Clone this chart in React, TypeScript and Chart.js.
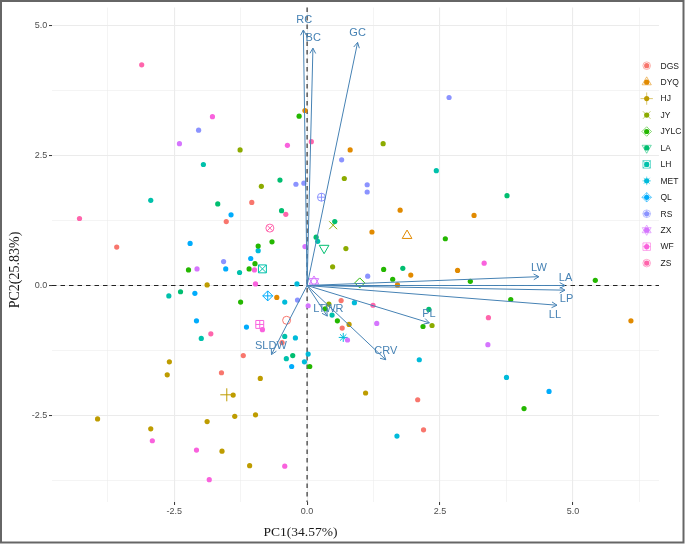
import React, { useEffect, useRef } from "react";
import { Chart, registerables } from "chart.js";
import { drawPoint } from "chart.js/helpers";

Chart.register(...registerables);

// ---------- data ----------
const groups = ["DGS", "DYQ", "HJ", "JY", "JYLC", "LA", "LH", "MET", "QL", "RS", "ZX", "WF", "ZS"];
const groupColors = ["#F8766D", "#E18A00", "#BE9C00", "#8CAB00", "#24B700", "#00BE70", "#00C1AB", "#00BBDA", "#00ACFC", "#8B93FF", "#D575FE", "#F962DD", "#FF65AC"];

const DGS_pc1 = [-1.04, -1.52, -3.58, -1.2, -1.61, 0.64, 0.66, -0.47, 2.08, 2.19];
const DGS_pc2 = [1.6, 1.23, 0.74, -1.35, -1.68, -0.29, -0.82, -1.1, -2.2, -2.78];
const DYQ_pc1 = [-0.04, 0.81, 1.75, 1.22, 3.14, -0.57, 1.95, 1.7, 2.83, 6.09];
const DYQ_pc2 = [3.37, 2.61, 1.45, 1.03, 1.35, -0.23, 0.2, 0.01, 0.29, -0.68];
const HJ_pc1 = [-1.88, -2.59, -2.63, -1.39, -3.94, -2.94, -1.88, -1.36, -1.6, -1.08, 0.79, -0.88, 1.1, -0.97];
const HJ_pc2 = [0.01, -1.47, -1.72, -2.11, -2.57, -2.76, -2.62, -2.52, -3.19, -3.47, -0.75, -1.79, -2.07, -2.49];
const JY_pc1 = [-1.26, 1.43, -0.86, 0.7, 0.73, 0.48, 0.41, 2.35];
const JY_pc2 = [2.61, 2.73, 1.91, 2.06, 0.71, 0.36, -0.36, -0.77];
const JYLC_pc1 = [-0.15, 2.6, -0.92, -0.66, -2.23, -1.09, -0.98, -1.25, 1.44, 1.61, 0.34, 0.57, 2.18, 0.05, 3.07, 5.42, 3.83, 4.08];
const JYLC_pc2 = [3.26, 0.9, 0.76, 0.84, 0.3, 0.32, 0.42, -0.32, 0.31, 0.12, -0.45, -0.68, -0.79, -1.56, 0.08, 0.1, -0.27, -2.37];
const LA_pc1 = [-1.68, -0.51, -0.48, 0.52, 0.17, 3.76, -2.38, 1.8, 2.29, -0.27];
const LA_pc2 = [1.57, 2.03, 1.44, 1.23, 0.93, 1.73, -0.12, 0.33, -0.46, -1.35];
const LH_pc1 = [-1.95, -2.94, 2.43, 0.2, -1.27, -2.6, -1.99, -0.42, -0.39, 0.47];
const LH_pc2 = [2.33, 1.64, 2.21, 0.85, 0.25, -0.2, -1.02, -0.98, -1.41, -0.57];
const MET_pc1 = [0.89, 0.02, 2.11, 1.69, 3.75, -0.22, -0.05, -0.19, -0.42, -0.92];
const MET_pc2 = [-0.33, -1.32, -1.43, -2.9, -1.77, -1.01, -1.47, 0.03, -0.32, 0.67];
const QL_pc1 = [-1.43, -2.2, -1.06, -1.53, -2.11, -2.08, -1.14, -0.29, 4.55];
const QL_pc2 = [1.36, 0.81, 0.52, 0.32, -0.15, -0.68, -0.8, -1.56, -2.04];
const RS_pc1 = [-2.04, 0.65, 2.67, -0.21, -0.06, 1.13, 1.13, -1.57, 1.14, -0.18];
const RS_pc2 = [2.99, 2.42, 3.62, 1.95, 1.97, 1.94, 1.8, 0.46, 0.18, -0.28];
const ZX_pc1 = [-2.4, -0.04, -2.07, 0.02, 1.31, 0.76, 3.4];
const ZX_pc2 = [2.73, 0.75, 0.32, -0.39, -0.73, -1.05, -1.14];
const WF_pc1 = [-1.78, -0.37, -0.99, -0.97, -0.84, -2.91, -2.08, -1.84, -0.42, 3.33];
const WF_pc2 = [3.25, 2.7, 0.3, 0.03, -0.85, -2.99, -3.17, -3.74, -3.48, 0.43];
const ZS_pc1 = [-3.11, 0.08, -0.4, -4.28, -1.81, 1.24, 3.41];
const ZS_pc2 = [4.25, 2.77, 1.37, 1.29, -0.93, -0.38, -0.62];

const groupPc1 = [DGS_pc1, DYQ_pc1, HJ_pc1, JY_pc1, JYLC_pc1, LA_pc1, LH_pc1, MET_pc1, QL_pc1, RS_pc1, ZX_pc1, WF_pc1, ZS_pc1];
const groupPc2 = [DGS_pc2, DYQ_pc2, HJ_pc2, JY_pc2, JYLC_pc2, LA_pc2, LH_pc2, MET_pc2, QL_pc2, RS_pc2, ZX_pc2, WF_pc2, ZS_pc2];

// group centroids
const centroidPc1 = [-0.385, 1.88, -1.51, 0.49, 0.99, 0.32, -0.84, 0.68, -0.74, 0.27, 0.13, -0.89, -0.7];
const centroidPc2 = [-0.67, 0.96, -2.105, 1.16, 0.05, 0.72, 0.32, -1.0, -0.2, 1.7, 0.08, -0.75, 1.105];

// loadings (arrows)
const loadingNames = ["RC", "BC", "GC", "LW", "LA", "LP", "LL", "PL", "CRV", "LTWR", "SLDW"];
const loadingPc1 = [-0.07, 0.11, 0.95, 4.36, 4.85, 4.85, 4.7, 2.3, 1.48, 0.38, -0.67];
const loadingPc2 = [4.92, 4.57, 4.68, 0.17, 0.0, -0.09, -0.38, -0.72, -1.43, -0.59, -1.33];
const loadingLabelPc1 = [-0.055, 0.115, 0.95, 4.36, 4.86, 4.88, 4.66, 2.29, 1.48, 0.4, -0.68];
const loadingLabelPc2 = [5.11, 4.76, 4.86, 0.34, 0.15, -0.25, -0.57, -0.55, -1.26, -0.46, -1.17];

// axes
const xTicks = [-3.75, -2.5, -1.25, 0, 1.25, 2.5, 3.75, 5, 6.25];
const yTicks = [-3.75, -2.5, -1.25, 0, 1.25, 2.5, 3.75, 5];
const xRange = [-4.797, 6.618];
const yRange = [-4.169, 5.353];
const xTitle = "PC1(34.57%)";
const yTitle = "PC2(25.83%)";

// ---------- styles ----------
// marker shapes per group: [pointStyle, rotation, radius]
const centroidShapes: [string, number, number][][] = [
  [["circle", 0, 4]],
  [["triangle", 0, 5.6]],
  [["cross", 0, 6.5]],
  [["crossRot", 0, 5.6]],
  [["rectRot", 0, 5]],
  [["triangle", 180, 5.6]],
  [["rect", 0, 5.6], ["crossRot", 0, 5.6]],
  [["star", 0, 4.5]],
  [["rectRot", 0, 5], ["cross", 0, 5]],
  [["circle", 0, 4], ["cross", 0, 4]],
  [["triangle", 0, 5.4], ["triangle", 180, 5.4]],
  [["rect", 0, 5.6], ["cross", 0, 4]],
  [["circle", 0, 4], ["crossRot", 0, 4]],
];

const SANS = "'Liberation Sans', Arial, Helvetica, sans-serif";
const SERIF = "'Liberation Serif', 'Times New Roman', serif";
const ARROW = "#4682B4";

const isMajor = (v: number) => Math.abs(v / 2.5 - Math.round(v / 2.5)) < 1e-6;

const overlayPlugin = {
  id: "overlay",
  beforeDatasetsDraw(chart: any) {
    const { ctx, chartArea, scales } = chart;
    const x0 = scales.x.getPixelForValue(0);
    const y0 = scales.y.getPixelForValue(0);
    ctx.save();
    ctx.strokeStyle = "#222";
    ctx.lineWidth = 1.1;
    ctx.setLineDash([4.5, 4]);
    ctx.beginPath();
    ctx.moveTo(x0, chartArea.top);
    ctx.lineTo(x0, chartArea.bottom);
    ctx.moveTo(chartArea.left, y0);
    ctx.lineTo(chartArea.right, y0);
    ctx.stroke();
    ctx.restore();
  },
  afterDatasetsDraw(chart: any) {
    const { ctx, scales } = chart;
    const xs = scales.x;
    const ys = scales.y;
    const ox = xs.getPixelForValue(0);
    const oy = ys.getPixelForValue(0);
    ctx.save();
    // arrows
    ctx.strokeStyle = ARROW;
    ctx.lineWidth = 1;
    for (let i = 0; i < loadingNames.length; i++) {
      const tx = xs.getPixelForValue(loadingPc1[i]);
      const ty = ys.getPixelForValue(loadingPc2[i]);
      const a = Math.atan2(ty - oy, tx - ox);
      const len = 6;
      const h = 0.5;
      ctx.beginPath();
      ctx.moveTo(ox, oy);
      ctx.lineTo(tx, ty);
      ctx.moveTo(tx - len * Math.cos(a - h), ty - len * Math.sin(a - h));
      ctx.lineTo(tx, ty);
      ctx.lineTo(tx - len * Math.cos(a + h), ty - len * Math.sin(a + h));
      ctx.stroke();
    }
    ctx.fillStyle = ARROW;
    ctx.font = `11px ${SANS}`;
    ctx.textAlign = "center";
    ctx.textBaseline = "middle";
    for (let i = 0; i < loadingNames.length; i++) {
      ctx.fillText(
        loadingNames[i],
        xs.getPixelForValue(loadingLabelPc1[i]),
        ys.getPixelForValue(loadingLabelPc2[i])
      );
    }

    // legend
    const lx = 646.7;
    const ly0 = 65.7;
    const step = 16.45;
    for (let g = 0; g < groups.length; g++) {
      const y = ly0 + g * step;
      ctx.globalAlpha = 1;
      ctx.fillStyle = groupColors[g];
      ctx.beginPath();
      ctx.arc(lx, y, 2.6, 0, Math.PI * 2);
      ctx.fill();
      ctx.globalAlpha = 0.55;
      ctx.strokeStyle = groupColors[g];
      ctx.fillStyle = "rgba(0,0,0,0)";
      for (const [style, rot, r] of centroidShapes[g]) {
        drawPoint(ctx, { pointStyle: style, rotation: rot, radius: r * 0.95, borderWidth: 1.3 }, lx, y);
      }
      ctx.globalAlpha = 1;
      ctx.fillStyle = "#1a1a1a";
      ctx.font = `8.5px ${SANS}`;
      ctx.textAlign = "left";
      ctx.textBaseline = "middle";
      ctx.fillText(groups[g], 660.5, y + 0.5);
    }

    // axis titles
    ctx.fillStyle = "#1a1a1a";
    ctx.font = `13.5px ${SERIF}`;
    ctx.textAlign = "center";
    ctx.textBaseline = "alphabetic";
    ctx.fillText(xTitle, 300.5, 536);
    ctx.save();
    ctx.translate(18.5, 270);
    ctx.rotate(-Math.PI / 2);
    ctx.font = `14px ${SERIF}`;
    ctx.fillText(yTitle, 0, 0);
    ctx.restore();

    // outer frame
    ctx.strokeStyle = "#666";
    ctx.lineWidth = 2;
    ctx.strokeRect(1, 1, 682.5, 541.5);
    ctx.restore();
  },
};

function makeScale(range: number[], ticksArr: number[], isX: boolean) {
  return {
    type: "linear" as const,
    min: range[0],
    max: range[1],
    afterBuildTicks: (s: any) => {
      s.ticks = ticksArr.map((v) => ({ value: v }));
    },
    afterFit: (s: any) => {
      if (isX) s.height = 42;
      else s.width = 52;
    },
    ticks: {
      autoSkip: false,
      maxRotation: 0,
      padding: isX ? 1 : 1.7,
      color: "#4d4d4d",
      font: { size: 9, family: SANS },
      callback: (v: any) => (isMajor(Number(v)) ? Number(v).toFixed(1) : ""),
    },
    grid: {
      color: "#EBEBEB",
      lineWidth: (c: any) => (c.tick && isMajor(c.tick.value) ? 1.1 : 0.55),
      tickLength: 3,
      tickWidth: 1,
      tickColor: (c: any) => (c.tick && isMajor(c.tick.value) ? "#333" : "rgba(0,0,0,0)"),
    },
    border: { display: false },
  };
}

export default function App() {
  const ref = useRef<HTMLCanvasElement | null>(null);
  useEffect(() => {
    if (!ref.current) return;
    const datasets: any[] = [];
    groups.forEach((g, gi) => {
      datasets.push({
        label: g,
        data: groupPc1[gi].map((x, i) => ({ x, y: groupPc2[gi][i] })),
        backgroundColor: groupColors[gi],
        borderWidth: 0,
        pointRadius: 2.6,
        pointStyle: "circle",
      });
    });
    groups.forEach((g, gi) => {
      const shapes = centroidShapes[gi];
      datasets.push({
        label: g + " centroid",
        data: shapes.map(() => ({ x: centroidPc1[gi], y: centroidPc2[gi] })),
        backgroundColor: "rgba(0,0,0,0)",
        borderColor: groupColors[gi],
        borderWidth: 1,
        pointStyle: shapes.map((s) => s[0]),
        pointRotation: shapes.map((s) => s[1]),
        pointRadius: shapes.map((s) => s[2]),
      });
    });
    const chart = new Chart(ref.current, {
      type: "scatter",
      data: { datasets },
      options: {
        animation: false,
        responsive: false,
        maintainAspectRatio: false,
        layout: { padding: { left: 0, top: 5, right: 26, bottom: 0 } },
        plugins: { legend: { display: false }, tooltip: { enabled: false } },
        scales: {
          x: makeScale(xRange, xTicks, true),
          y: makeScale(yRange, yTicks, false),
        },
      },
      plugins: [overlayPlugin],
    });
    return () => chart.destroy();
  }, []);
  return (
    <div style={{ position: "absolute", left: 0, top: 0, width: 685, height: 544, background: "#fff" }}>
      <canvas ref={ref} width={685} height={544} style={{ display: "block" }} />
    </div>
  );
}
